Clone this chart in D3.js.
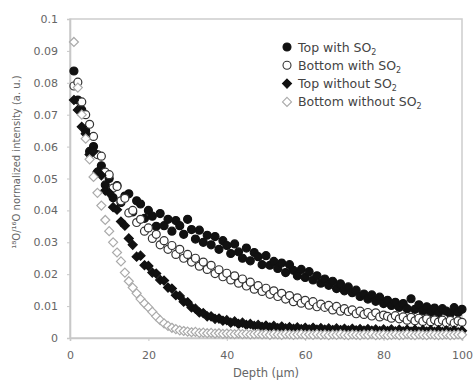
<!DOCTYPE html>
<html>
<head>
<meta charset="utf-8">
<script src="https://cdn.jsdelivr.net/npm/d3@7"></script>
<style>
  html, body { margin: 0; padding: 0; background: #fff; }
  svg { display: block; font-family: "DejaVu Sans", Arial, sans-serif; }
</style>
</head>
<body>
<div class="chartArea"></div>
<script>
// depth grid (µm), one reading per µm
const depths = d3.range(1, 101);

// 18O/16O normalized intensity
const topWithSO2 = [
  0.0837, 0.0746, 0.0715, 0.0650, 0.0585, 0.0600, 0.0520, 0.0540, 0.0480, 0.0500,
  0.0440, 0.0478, 0.0425, 0.0445, 0.0452, 0.0395, 0.0430, 0.0420, 0.0375, 0.0400,
  0.0382, 0.0350, 0.0390, 0.0352, 0.0372, 0.0335, 0.0368, 0.0352, 0.0325, 0.0372,
  0.0340, 0.0310, 0.0338, 0.0300, 0.0322, 0.0292, 0.0318, 0.0278, 0.0305, 0.0290,
  0.0265, 0.0295, 0.0270, 0.0250, 0.0282, 0.0242, 0.0268, 0.0255, 0.0230, 0.0258,
  0.0228, 0.0240, 0.0218, 0.0235, 0.0205, 0.0230, 0.0212, 0.0195, 0.0215, 0.0190,
  0.0208, 0.0182, 0.0195, 0.0172, 0.0185, 0.0165, 0.0178, 0.0155, 0.0170, 0.0148,
  0.0160, 0.0142, 0.0150, 0.0130, 0.0138, 0.0122, 0.0135, 0.0115, 0.0128, 0.0108,
  0.0118, 0.0102, 0.0112, 0.0096, 0.0108, 0.0092, 0.0123, 0.0090, 0.0104, 0.0085,
  0.0098, 0.0080, 0.0094, 0.0078, 0.0092, 0.0084, 0.0076, 0.0095, 0.0080, 0.0090
];

const bottomWithSO2 = [
  0.0790, 0.0802, 0.0740, 0.0700, 0.0670, 0.0632, 0.0575, 0.0570, 0.0520, 0.0512,
  0.0470, 0.0475, 0.0430, 0.0438, 0.0392, 0.0400, 0.0362, 0.0372, 0.0335, 0.0345,
  0.0312, 0.0325, 0.0292, 0.0305, 0.0278, 0.0290, 0.0262, 0.0278, 0.0250, 0.0262,
  0.0238, 0.0250, 0.0225, 0.0238, 0.0215, 0.0228, 0.0202, 0.0214, 0.0192, 0.0203,
  0.0182, 0.0195, 0.0172, 0.0185, 0.0163, 0.0175, 0.0153, 0.0164, 0.0146, 0.0156,
  0.0137, 0.0148, 0.0130, 0.0140, 0.0122, 0.0133, 0.0114, 0.0126, 0.0109, 0.0118,
  0.0103, 0.0114, 0.0098, 0.0106, 0.0096, 0.0102, 0.0088, 0.0099, 0.0084, 0.0092,
  0.0083, 0.0088, 0.0076, 0.0084, 0.0074, 0.0080, 0.0069, 0.0079, 0.0066, 0.0072,
  0.0068, 0.0062, 0.0070, 0.0060, 0.0066, 0.0056, 0.0065, 0.0054, 0.0062, 0.0052,
  0.0060, 0.0051, 0.0057, 0.0050, 0.0056, 0.0048, 0.0055, 0.0047, 0.0054, 0.0049
];

const topWithoutSO2 = [
  0.0746, 0.0715, 0.0662, 0.0640, 0.0575, 0.0585, 0.0520, 0.0510, 0.0462, 0.0455,
  0.0410, 0.0402, 0.0365, 0.0352, 0.0312, 0.0292, 0.0255, 0.0258, 0.0228, 0.0226,
  0.0205, 0.0202, 0.0182, 0.0180, 0.0158, 0.0155, 0.0134, 0.0132, 0.0114, 0.0112,
  0.0096, 0.0092, 0.0080, 0.0078, 0.0068, 0.0068, 0.0060, 0.0061, 0.0054, 0.0056,
  0.0048, 0.0052, 0.0044, 0.0048, 0.0041, 0.0044, 0.0038, 0.0041, 0.0035, 0.0039,
  0.0033, 0.0038, 0.0031, 0.0036, 0.0030, 0.0034, 0.0029, 0.0033, 0.0028, 0.0032,
  0.0027, 0.0032, 0.0026, 0.0031, 0.0026, 0.0030, 0.0025, 0.0030, 0.0025, 0.0029,
  0.0024, 0.0029, 0.0024, 0.0028, 0.0023, 0.0028, 0.0023, 0.0027, 0.0022, 0.0027,
  0.0022, 0.0027, 0.0021, 0.0026, 0.0021, 0.0026, 0.0020, 0.0026, 0.0020, 0.0025,
  0.0020, 0.0025, 0.0019, 0.0025, 0.0019, 0.0024, 0.0019, 0.0024, 0.0018, 0.0023
];

const bottomWithoutSO2 = [
  0.0928, 0.0785, 0.0700, 0.0625, 0.0560, 0.0505, 0.0455, 0.0415, 0.0370, 0.0335,
  0.0300, 0.0268, 0.0240, 0.0205, 0.0178, 0.0158, 0.0140, 0.0122, 0.0108, 0.0096,
  0.0082, 0.0068, 0.0056, 0.0046, 0.0038, 0.0032, 0.0028, 0.0024, 0.0022, 0.0020,
  0.0018, 0.0019, 0.0016, 0.0017, 0.0015, 0.0016, 0.0014, 0.0015, 0.0013, 0.0014,
  0.0013, 0.0012, 0.0014, 0.0012, 0.0013, 0.0011, 0.0012, 0.0013, 0.0011, 0.0012,
  0.0010, 0.0012, 0.0011, 0.0010, 0.0012, 0.0011, 0.0010, 0.0011, 0.0012, 0.0010,
  0.0011, 0.0010, 0.0012, 0.0010, 0.0011, 0.0009, 0.0011, 0.0010, 0.0012, 0.0010,
  0.0009, 0.0011, 0.0010, 0.0009, 0.0011, 0.0010, 0.0012, 0.0009, 0.0010, 0.0011,
  0.0009, 0.0010, 0.0011, 0.0009, 0.0010, 0.0012, 0.0010, 0.0009, 0.0011, 0.0010,
  0.0009, 0.0011, 0.0010, 0.0009, 0.0010, 0.0011, 0.0009, 0.0010, 0.0011, 0.0010
];

const yTicks = [0, 0.01, 0.02, 0.03, 0.04, 0.05, 0.06, 0.07, 0.08, 0.09, 0.1];
const xTicks = [0, 20, 40, 60, 80, 100];

// series definitions (drawn in this order)
const seriesList = [
  { name: "Top with SO", values: topWithSO2, shape: "circle", fill: "#111", stroke: "#111" },
  { name: "Bottom with SO", values: bottomWithSO2, shape: "circle", fill: "#fff", stroke: "#333" },
  { name: "Top without SO", values: topWithoutSO2, shape: "diamond", fill: "#111", stroke: "#111" },
  { name: "Bottom without SO", values: bottomWithoutSO2, shape: "diamond", fill: "#fff", stroke: "#aaa" }
];

const width = 473, height = 382;
const margin = { left: 70, right: 11, top: 19, bottom: 44 };

const svg = d3.select(".chartArea").append("svg")
    .attr("width", width)
    .attr("height", height);

const x = d3.scaleLinear()
    .domain([0, 100])
    .range([margin.left, width - margin.right]);

const y = d3.scaleLinear()
    .domain([0, 0.1])
    .range([height - margin.bottom, margin.top]);

// marker shapes
function markerPath(shape) {
    if (shape === "diamond") return "M0,-4.5L4.5,0L0,4.5L-4.5,0Z";
    return d3.symbol(d3.symbolCircle, 50)();
}

// frame
svg.append("rect")
    .attr("x", x(0))
    .attr("y", y(0.1))
    .attr("width", x(100) - x(0))
    .attr("height", y(0) - y(0.1))
    .style("fill", "none")
    .style("stroke", "#d0d0d0")
    .style("stroke-width", 1.6);

// axes
const yAxis = svg.append("g")
    .attr("transform", `translate(${x(0)},0)`)
    .call(d3.axisLeft(y).tickValues(yTicks).tickSize(3).tickPadding(9)
        .tickFormat(d => d === 0 ? "0" : d3.format("~g")(d)));

const xAxis = svg.append("g")
    .attr("transform", `translate(0,${y(0)})`)
    .call(d3.axisBottom(x).tickValues(xTicks).tickSize(3).tickPadding(10));

[xAxis, yAxis].forEach(ax => {
    ax.select(".domain").style("stroke", "#c8c8c8").style("stroke-width", 1.6);
    ax.selectAll(".tick line").style("stroke", "#c8c8c8");
    ax.selectAll(".tick text")
        .style("font-family", "DejaVu Sans, sans-serif")
        .style("font-size", "11px")
        .style("fill", "#666");
});

// points
const plot = svg.append("g").attr("class", "plotArea");

seriesList.forEach(s => {
    plot.append("g")
        .selectAll("path")
        .data(s.values.map((v, i) => ({ depth: depths[i], value: v })))
        .enter()
        .append("path")
        .attr("d", markerPath(s.shape))
        .attr("transform", d => `translate(${x(d.depth)},${y(d.value)})`)
        .style("fill", s.fill)
        .style("stroke", s.stroke)
        .style("stroke-width", 1.2);
});

// axis titles
svg.append("text")
    .attr("x", (x(0) + x(100)) / 2)
    .attr("y", 377)
    .attr("text-anchor", "middle")
    .style("font-size", "11.5px")
    .style("fill", "#666")
    .text("Depth (µm)");

svg.append("text")
    .attr("transform", `translate(20,${162}) rotate(-90)`)
    .attr("text-anchor", "middle")
    .style("font-size", "10px")
    .style("fill", "#666")
    .text("¹⁸O/¹⁶O normalized intensity (a. u.)");

// legend
const legend = svg.append("g")
    .attr("transform", "translate(287,47)");

const rows = legend.selectAll(".legendRow")
    .data(seriesList)
    .enter()
    .append("g")
    .attr("class", "legendRow")
    .attr("transform", (d, i) => `translate(0,${i * 18.3})`);

rows.append("path")
    .attr("d", d => markerPath(d.shape))
    .style("fill", d => d.fill)
    .style("stroke", d => d.stroke)
    .style("stroke-width", 1.1);

const labels = rows.append("text")
    .attr("x", 11)
    .attr("y", 4.5)
    .style("font-size", "12.5px")
    .style("fill", "#444");

labels.append("tspan").text(d => d.name);
labels.append("tspan")
    .attr("dy", 3)
    .style("font-size", "8px")
    .text("2");
</script>
</body>
</html>
